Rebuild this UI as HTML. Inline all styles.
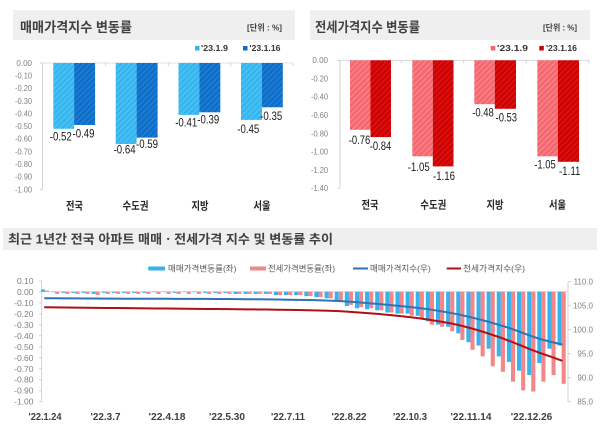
<!DOCTYPE html>
<html><head><meta charset="utf-8"><style>
html,body{margin:0;padding:0;background:#fff;}
svg{display:block;}
text{font-family:"Liberation Sans","Noto Sans CJK KR",sans-serif;}
</style></head><body>
<svg width="600" height="435" viewBox="0 0 600 435" xmlns="http://www.w3.org/2000/svg">
<defs>
<pattern id="lb" patternUnits="userSpaceOnUse" width="4" height="4" patternTransform="rotate(45)"><rect width="4" height="4" fill="#33B6F0"/><rect width="1.2" height="4" fill="#57C4F4"/></pattern>
<pattern id="db" patternUnits="userSpaceOnUse" width="4" height="4" patternTransform="rotate(45)"><rect width="4" height="4" fill="#0C6ECA"/><rect width="1.2" height="4" fill="#2880D3"/></pattern>
<pattern id="lr" patternUnits="userSpaceOnUse" width="4" height="4" patternTransform="rotate(45)"><rect width="4" height="4" fill="#F5666E"/><rect width="1.2" height="4" fill="#F98A90"/></pattern>
<pattern id="dr" patternUnits="userSpaceOnUse" width="4" height="4" patternTransform="rotate(45)"><rect width="4" height="4" fill="#CF0000"/><rect width="1.2" height="4" fill="#D91A1A"/></pattern>
</defs>
<rect width="600" height="435" fill="#fff"/>

<!-- ============ TOP LEFT ============ -->
<rect x="13" y="10" width="282" height="30" fill="#EFEFEF"/>
<text x="20" y="32" font-size="13.5" font-weight="bold" fill="#404040" textLength="112" lengthAdjust="spacingAndGlyphs">매매가격지수 변동률</text>
<text x="247" y="30.5" font-size="8.5" font-weight="bold" fill="#404040" textLength="35" lengthAdjust="spacingAndGlyphs">[단위 : %]</text>
<rect x="195" y="46" width="4.5" height="4.5" fill="#33B6F0"/>
<text x="201" y="50.8" font-size="8.5" font-weight="bold" fill="#333" textLength="27" lengthAdjust="spacingAndGlyphs">'23.1.9</text>
<rect x="243" y="46" width="4.5" height="4.5" fill="#0C6ECA"/>
<text x="249.5" y="50.8" font-size="8.5" font-weight="bold" fill="#333" textLength="31" lengthAdjust="spacingAndGlyphs">'23.1.16</text>

<g font-size="8" fill="#808080" text-anchor="end">
<text x="32" y="65.8">0.00</text>
<text x="32" y="78.5" textLength="17" lengthAdjust="spacingAndGlyphs">-0.10</text>
<text x="32" y="91.1" textLength="17" lengthAdjust="spacingAndGlyphs">-0.20</text>
<text x="32" y="103.8" textLength="17" lengthAdjust="spacingAndGlyphs">-0.30</text>
<text x="32" y="116.4" textLength="17" lengthAdjust="spacingAndGlyphs">-0.40</text>
<text x="32" y="129.1" textLength="17" lengthAdjust="spacingAndGlyphs">-0.50</text>
<text x="32" y="141.7" textLength="17" lengthAdjust="spacingAndGlyphs">-0.60</text>
<text x="32" y="154.4" textLength="17" lengthAdjust="spacingAndGlyphs">-0.70</text>
<text x="32" y="167" textLength="17" lengthAdjust="spacingAndGlyphs">-0.80</text>
<text x="32" y="179.7" textLength="17" lengthAdjust="spacingAndGlyphs">-0.90</text>
<text x="32" y="192.3" textLength="17" lengthAdjust="spacingAndGlyphs">-1.00</text>
</g>
<g stroke="#C8C8C8" stroke-width="0.8">
<line x1="42.5" y1="63" x2="42.5" y2="189.5"/>
<line x1="40" y1="63" x2="42.5" y2="63"/>
<line x1="40" y1="189.5" x2="42.5" y2="189.5"/>
<line x1="42.5" y1="63" x2="293" y2="63" stroke="#D6D6D6"/>
<line x1="105.75" y1="63" x2="105.75" y2="66"/>
<line x1="168.25" y1="63" x2="168.25" y2="66"/>
<line x1="230.75" y1="63" x2="230.75" y2="66"/>
<line x1="293" y1="63" x2="293" y2="66"/>
</g>
<rect x="53.3" y="63" width="20.8" height="65.8" fill="url(#lb)"/>
<rect x="74.1" y="63" width="21" height="62" fill="url(#db)"/>
<rect x="115.7" y="63" width="20.9" height="81" fill="url(#lb)"/>
<rect x="136.6" y="63" width="21" height="74.6" fill="url(#db)"/>
<rect x="178.5" y="63" width="20.8" height="51.9" fill="url(#lb)"/>
<rect x="199.3" y="63" width="21" height="49.3" fill="url(#db)"/>
<rect x="241" y="63" width="21" height="56.9" fill="url(#lb)"/>
<rect x="262" y="63" width="20.8" height="44.3" fill="url(#db)"/>
<g font-size="11.5" fill="#1a1a1a" text-anchor="middle">
<text x="60.8" y="140.7" textLength="22" lengthAdjust="spacingAndGlyphs">-0.52</text>
<text x="83.5" y="137.3" textLength="22" lengthAdjust="spacingAndGlyphs">-0.49</text>
<text x="124.6" y="153.5" textLength="22" lengthAdjust="spacingAndGlyphs">-0.64</text>
<text x="147" y="148" textLength="22" lengthAdjust="spacingAndGlyphs">-0.59</text>
<text x="186.2" y="126.5" textLength="22" lengthAdjust="spacingAndGlyphs">-0.41</text>
<text x="208.3" y="123.5" textLength="22" lengthAdjust="spacingAndGlyphs">-0.39</text>
<text x="248.3" y="133" textLength="22" lengthAdjust="spacingAndGlyphs">-0.45</text>
<text x="271.2" y="120" textLength="22" lengthAdjust="spacingAndGlyphs">-0.35</text>
</g>
<g font-size="11" font-weight="bold" fill="#262626" text-anchor="middle">
<text x="74.5" y="209.5" textLength="17" lengthAdjust="spacingAndGlyphs">전국</text>
<text x="135.5" y="209.5" textLength="26" lengthAdjust="spacingAndGlyphs">수도권</text>
<text x="200" y="209.5" textLength="17" lengthAdjust="spacingAndGlyphs">지방</text>
<text x="262" y="209.5" textLength="17" lengthAdjust="spacingAndGlyphs">서울</text>
</g>

<!-- ============ TOP RIGHT ============ -->
<rect x="310" y="10" width="280" height="30" fill="#EFEFEF"/>
<text x="315" y="32" font-size="13.5" font-weight="bold" fill="#404040" textLength="105" lengthAdjust="spacingAndGlyphs">전세가격지수 변동률</text>
<text x="543" y="30.5" font-size="8.5" font-weight="bold" fill="#404040" textLength="34" lengthAdjust="spacingAndGlyphs">[단위 : %]</text>
<rect x="490.7" y="46" width="4.5" height="4.5" fill="#F5666E"/>
<text x="497" y="50.8" font-size="8.5" font-weight="bold" fill="#333" textLength="31" lengthAdjust="spacingAndGlyphs">'23.1.9</text>
<rect x="539.3" y="46" width="4.5" height="4.5" fill="#CF0000"/>
<text x="546" y="50.8" font-size="8.5" font-weight="bold" fill="#333" textLength="31" lengthAdjust="spacingAndGlyphs">'23.1.16</text>

<g font-size="8" fill="#808080" text-anchor="end">
<text x="328" y="63.1">0.00</text>
<text x="328" y="81.4" textLength="17" lengthAdjust="spacingAndGlyphs">-0.20</text>
<text x="328" y="99.7" textLength="17" lengthAdjust="spacingAndGlyphs">-0.40</text>
<text x="328" y="118" textLength="17" lengthAdjust="spacingAndGlyphs">-0.60</text>
<text x="328" y="136.3" textLength="17" lengthAdjust="spacingAndGlyphs">-0.80</text>
<text x="328" y="154.5" textLength="17" lengthAdjust="spacingAndGlyphs">-1.00</text>
<text x="328" y="172.8" textLength="17" lengthAdjust="spacingAndGlyphs">-1.20</text>
<text x="328" y="191.1" textLength="17" lengthAdjust="spacingAndGlyphs">-1.40</text>
</g>
<g stroke="#C8C8C8" stroke-width="0.8">
<line x1="340" y1="60.3" x2="340" y2="188.3"/>
<line x1="337.5" y1="60.3" x2="340" y2="60.3"/>
<line x1="337.5" y1="188.3" x2="340" y2="188.3"/>
<line x1="340" y1="60.3" x2="589" y2="60.3" stroke="#D6D6D6"/>
<line x1="401.25" y1="60.3" x2="401.25" y2="63.3"/>
<line x1="463.75" y1="60.3" x2="463.75" y2="63.3"/>
<line x1="526.25" y1="60.3" x2="526.25" y2="63.3"/>
<line x1="588.75" y1="60.3" x2="588.75" y2="63.3"/>
</g>
<rect x="350" y="60.3" width="20.5" height="69.5" fill="url(#lr)"/>
<rect x="370.5" y="60.3" width="20.5" height="76.8" fill="url(#dr)"/>
<rect x="412.3" y="60.3" width="20.5" height="96" fill="url(#lr)"/>
<rect x="432.8" y="60.3" width="20.7" height="106.1" fill="url(#dr)"/>
<rect x="474.3" y="60.3" width="20.5" height="43.9" fill="url(#lr)"/>
<rect x="494.8" y="60.3" width="21.2" height="48.5" fill="url(#dr)"/>
<rect x="537.3" y="60.3" width="20.5" height="96" fill="url(#lr)"/>
<rect x="557.8" y="60.3" width="21.2" height="101.5" fill="url(#dr)"/>
<g font-size="11.5" fill="#1a1a1a" text-anchor="middle">
<text x="359.5" y="144" textLength="21.5" lengthAdjust="spacingAndGlyphs">-0.76</text>
<text x="380.5" y="150" textLength="21.5" lengthAdjust="spacingAndGlyphs">-0.84</text>
<text x="418.7" y="171" textLength="22" lengthAdjust="spacingAndGlyphs">-1.05</text>
<text x="444" y="180" textLength="22" lengthAdjust="spacingAndGlyphs">-1.16</text>
<text x="483" y="116.5" textLength="21.5" lengthAdjust="spacingAndGlyphs">-0.48</text>
<text x="506.3" y="121.5" textLength="21.5" lengthAdjust="spacingAndGlyphs">-0.53</text>
<text x="545" y="168.5" textLength="21.5" lengthAdjust="spacingAndGlyphs">-1.05</text>
<text x="569.7" y="175" textLength="21.5" lengthAdjust="spacingAndGlyphs">-1.11</text>
</g>
<g font-size="11" font-weight="bold" fill="#262626" text-anchor="middle">
<text x="370" y="208.5" textLength="17" lengthAdjust="spacingAndGlyphs">전국</text>
<text x="433.3" y="208.5" textLength="26" lengthAdjust="spacingAndGlyphs">수도권</text>
<text x="495" y="208.5" textLength="17" lengthAdjust="spacingAndGlyphs">지방</text>
<text x="557.5" y="208.5" textLength="17" lengthAdjust="spacingAndGlyphs">서울</text>
</g>

<!-- ============ BOTTOM ============ -->
<rect x="3" y="228" width="594" height="22" fill="#EFEFEF"/>
<text x="8" y="243.5" font-size="12.5" font-weight="bold" fill="#404040" textLength="325" lengthAdjust="spacingAndGlyphs">최근 1년간 전국 아파트 매매ㆍ전세가격 지수 및 변동률 추이</text>

<rect x="148.3" y="266.5" width="16.7" height="4" fill="#38B2EC"/>
<text x="168" y="271.5" font-size="8.5" fill="#595959" textLength="68.5" lengthAdjust="spacingAndGlyphs">매매가격변동률(좌)</text>
<rect x="250" y="266.5" width="16" height="4" fill="#F2878A"/>
<text x="268" y="271.5" font-size="8.5" fill="#595959" textLength="67" lengthAdjust="spacingAndGlyphs">전세가격변동률(좌)</text>
<line x1="353" y1="268.5" x2="368" y2="268.5" stroke="#2F74B5" stroke-width="2"/>
<text x="370" y="271.5" font-size="8.5" fill="#595959" textLength="60.7" lengthAdjust="spacingAndGlyphs">매매가격지수(우)</text>
<line x1="446.7" y1="268.5" x2="461" y2="268.5" stroke="#B00F14" stroke-width="2"/>
<text x="463" y="271.5" font-size="8.5" fill="#595959" textLength="62" lengthAdjust="spacingAndGlyphs">전세가격지수(우)</text>

<g font-size="8.5" fill="#808080" text-anchor="end">
<text x="33.5" y="284">0.10</text>
<text x="33.5" y="295">0.00</text>
<text x="33.5" y="305.9">-0.10</text>
<text x="33.5" y="316.9">-0.20</text>
<text x="33.5" y="327.9">-0.30</text>
<text x="33.5" y="338.8">-0.40</text>
<text x="33.5" y="349.8">-0.50</text>
<text x="33.5" y="360.8">-0.60</text>
<text x="33.5" y="371.8">-0.70</text>
<text x="33.5" y="382.7">-0.80</text>
<text x="33.5" y="393.7">-0.90</text>
<text x="33.5" y="404.7">-1.00</text>
</g>
<g font-size="8" fill="#808080" text-anchor="end">
<text x="593" y="284.5">110.0</text>
<text x="593" y="308.5">105.0</text>
<text x="593" y="332.5">100.0</text>
<text x="593" y="356.5">95.0</text>
<text x="593" y="380.5">90.0</text>
<text x="593" y="404.5">85.0</text>
</g>
<g stroke="#C8C8C8" stroke-width="0.8">
<line x1="41.7" y1="281" x2="41.7" y2="401.7"/>
<line x1="39" y1="281" x2="41.7" y2="281"/>
<line x1="39" y1="292" x2="41.7" y2="292"/>
<line x1="39" y1="302.9" x2="41.7" y2="302.9"/>
<line x1="39" y1="313.9" x2="41.7" y2="313.9"/>
<line x1="39" y1="324.9" x2="41.7" y2="324.9"/>
<line x1="39" y1="335.8" x2="41.7" y2="335.8"/>
<line x1="39" y1="346.8" x2="41.7" y2="346.8"/>
<line x1="39" y1="357.8" x2="41.7" y2="357.8"/>
<line x1="39" y1="368.8" x2="41.7" y2="368.8"/>
<line x1="39" y1="379.7" x2="41.7" y2="379.7"/>
<line x1="39" y1="390.7" x2="41.7" y2="390.7"/>
<line x1="39" y1="401.7" x2="41.7" y2="401.7"/>
<line x1="568" y1="281.7" x2="568" y2="401.7"/>
<line x1="568" y1="281.7" x2="571" y2="281.7"/>
<line x1="568" y1="305.7" x2="571" y2="305.7"/>
<line x1="568" y1="329.7" x2="571" y2="329.7"/>
<line x1="568" y1="353.7" x2="571" y2="353.7"/>
<line x1="568" y1="377.7" x2="571" y2="377.7"/>
<line x1="568" y1="401.7" x2="571" y2="401.7"/>
<line x1="41.7" y1="291.7" x2="568" y2="291.7" stroke="#D9D9D9"/>
</g>

<!-- blue bars -->
<g fill="#38B2EC">
<rect x="40.9" y="289.5" width="4.1" height="2.2"/>
<rect x="51.03" y="291.7" width="4.1" height="0.5"/>
<rect x="61.16" y="291.7" width="4.1" height="1.1"/>
<rect x="71.29" y="291.7" width="4.1" height="1.1"/>
<rect x="81.42" y="291.7" width="4.1" height="1.1"/>
<rect x="91.55" y="291.7" width="4.1" height="2.2"/>
<rect x="101.68" y="291.7" width="4.1" height="1.1"/>
<rect x="111.81" y="291.7" width="4.1" height="1.1"/>
<rect x="121.94" y="291.7" width="4.1" height="1.1"/>
<rect x="132.07" y="291.7" width="4.1" height="1.1"/>
<rect x="142.2" y="291.7" width="4.1" height="1.1"/>
<rect x="152.33" y="291.7" width="4.1" height="0.5"/>
<rect x="162.46" y="291.7" width="4.1" height="0.5"/>
<rect x="172.59" y="291.7" width="4.1" height="1.1"/>
<rect x="182.72" y="291.7" width="4.1" height="0.5"/>
<rect x="192.85" y="291.7" width="4.1" height="0.5"/>
<rect x="202.98" y="291.7" width="4.1" height="1.1"/>
<rect x="213.11" y="291.7" width="4.1" height="1.1"/>
<rect x="223.24" y="291.7" width="4.1" height="1.1"/>
<rect x="233.37" y="291.7" width="4.1" height="2.2"/>
<rect x="243.5" y="291.7" width="4.1" height="2.2"/>
<rect x="253.63" y="291.7" width="4.1" height="2.2"/>
<rect x="263.76" y="291.7" width="4.1" height="2.2"/>
<rect x="273.89" y="291.7" width="4.1" height="3.3"/>
<rect x="284.02" y="291.7" width="4.1" height="3.3"/>
<rect x="294.15" y="291.7" width="4.1" height="3.3"/>
<rect x="304.28" y="291.7" width="4.1" height="4.4"/>
<rect x="314.41" y="291.7" width="4.1" height="5.5"/>
<rect x="324.54" y="291.7" width="4.1" height="6.6"/>
<rect x="334.67" y="291.7" width="4.1" height="8.8"/>
<rect x="344.8" y="291.7" width="4.1" height="14.3"/>
<rect x="354.93" y="291.7" width="4.1" height="16.5"/>
<rect x="365.06" y="291.7" width="4.1" height="17.6"/>
<rect x="375.19" y="291.7" width="4.1" height="18.6"/>
<rect x="385.32" y="291.7" width="4.1" height="20.8"/>
<rect x="395.45" y="291.7" width="4.1" height="21.9"/>
<rect x="405.58" y="291.7" width="4.1" height="21.9"/>
<rect x="415.71" y="291.7" width="4.1" height="24.1"/>
<rect x="425.84" y="291.7" width="4.1" height="29.6"/>
<rect x="435.97" y="291.7" width="4.1" height="32.9"/>
<rect x="446.1" y="291.7" width="4.1" height="35.1"/>
<rect x="456.23" y="291.7" width="4.1" height="41.7"/>
<rect x="466.36" y="291.7" width="4.1" height="50.5"/>
<rect x="476.49" y="291.7" width="4.1" height="53.8"/>
<rect x="486.62" y="291.7" width="4.1" height="57"/>
<rect x="496.75" y="291.7" width="4.1" height="64.7"/>
<rect x="506.88" y="291.7" width="4.1" height="70.2"/>
<rect x="517.01" y="291.7" width="4.1" height="79"/>
<rect x="527.14" y="291.7" width="4.1" height="83.4"/>
<rect x="537.27" y="291.7" width="4.1" height="71.3"/>
<rect x="547.4" y="291.7" width="4.1" height="57"/>
<rect x="557.53" y="291.7" width="4.1" height="53.8"/>
</g>
<!-- red bars -->
<g fill="#F2878A">
<rect x="45" y="290.6" width="4.1" height="1.1"/>
<rect x="55.13" y="291.7" width="4.1" height="2.2"/>
<rect x="65.26" y="291.7" width="4.1" height="2.2"/>
<rect x="75.39" y="291.7" width="4.1" height="2.2"/>
<rect x="85.52" y="291.7" width="4.1" height="2.2"/>
<rect x="95.65" y="291.7" width="4.1" height="3.3"/>
<rect x="105.78" y="291.7" width="4.1" height="2.2"/>
<rect x="115.91" y="291.7" width="4.1" height="2.2"/>
<rect x="126.04" y="291.7" width="4.1" height="2.2"/>
<rect x="136.17" y="291.7" width="4.1" height="2.2"/>
<rect x="146.3" y="291.7" width="4.1" height="2.2"/>
<rect x="156.43" y="291.7" width="4.1" height="2.2"/>
<rect x="166.56" y="291.7" width="4.1" height="2.2"/>
<rect x="176.69" y="291.7" width="4.1" height="2.2"/>
<rect x="186.82" y="291.7" width="4.1" height="2.2"/>
<rect x="196.95" y="291.7" width="4.1" height="2.2"/>
<rect x="207.08" y="291.7" width="4.1" height="2.2"/>
<rect x="217.21" y="291.7" width="4.1" height="2.2"/>
<rect x="227.34" y="291.7" width="4.1" height="2.2"/>
<rect x="237.47" y="291.7" width="4.1" height="2.2"/>
<rect x="247.6" y="291.7" width="4.1" height="2.2"/>
<rect x="257.73" y="291.7" width="4.1" height="2.2"/>
<rect x="267.86" y="291.7" width="4.1" height="2.2"/>
<rect x="277.99" y="291.7" width="4.1" height="3.3"/>
<rect x="288.12" y="291.7" width="4.1" height="3.3"/>
<rect x="298.25" y="291.7" width="4.1" height="3.3"/>
<rect x="308.38" y="291.7" width="4.1" height="4.4"/>
<rect x="318.51" y="291.7" width="4.1" height="5.5"/>
<rect x="328.64" y="291.7" width="4.1" height="6.6"/>
<rect x="338.77" y="291.7" width="4.1" height="8.8"/>
<rect x="348.9" y="291.7" width="4.1" height="13.2"/>
<rect x="359.03" y="291.7" width="4.1" height="15.4"/>
<rect x="369.16" y="291.7" width="4.1" height="16.5"/>
<rect x="379.29" y="291.7" width="4.1" height="18.6"/>
<rect x="389.42" y="291.7" width="4.1" height="20.8"/>
<rect x="399.55" y="291.7" width="4.1" height="21.9"/>
<rect x="409.68" y="291.7" width="4.1" height="24.1"/>
<rect x="419.81" y="291.7" width="4.1" height="27.4"/>
<rect x="429.94" y="291.7" width="4.1" height="32.9"/>
<rect x="440.07" y="291.7" width="4.1" height="35.1"/>
<rect x="450.2" y="291.7" width="4.1" height="39.5"/>
<rect x="460.33" y="291.7" width="4.1" height="48.3"/>
<rect x="470.46" y="291.7" width="4.1" height="58.1"/>
<rect x="480.59" y="291.7" width="4.1" height="64.7"/>
<rect x="490.72" y="291.7" width="4.1" height="74.6"/>
<rect x="500.85" y="291.7" width="4.1" height="80.1"/>
<rect x="510.98" y="291.7" width="4.1" height="90"/>
<rect x="521.11" y="291.7" width="4.1" height="98.7"/>
<rect x="531.24" y="291.7" width="4.1" height="99.8"/>
<rect x="541.37" y="291.7" width="4.1" height="90"/>
<rect x="551.5" y="291.7" width="4.1" height="83.4"/>
<rect x="561.63" y="291.7" width="4.1" height="92.1"/>
</g>

<!-- index lines -->
<polyline fill="none" stroke="#2F74B5" stroke-width="2" stroke-linejoin="round" stroke-linecap="round" points="45,298.3 55.13,298.3 65.26,298.35 75.39,298.4 85.52,298.45 95.65,298.55 105.78,298.6 115.91,298.65 126.04,298.7 136.17,298.75 146.3,298.8 156.43,298.8 166.56,298.8 176.69,298.85 186.82,298.85 196.95,298.85 207.08,298.9 217.21,298.95 227.34,299 237.47,299.1 247.6,299.2 257.73,299.3 267.86,299.4 277.99,299.55 288.12,299.7 298.25,299.85 308.38,300.05 318.51,300.3 328.64,300.6 338.77,301 348.9,301.65 359.03,302.4 369.16,303.2 379.29,304.05 389.42,305 399.55,306 409.68,307 419.81,308.1 429.94,309.45 440.07,311.1 450.2,312.8 460.33,314.8 470.46,317.2 480.59,319.7 490.72,322.4 500.85,325.4 510.98,328.6 521.11,332.3 531.24,336.1 541.37,339.4 551.5,342 561.63,344.4"/>
<polyline fill="none" stroke="#B00F14" stroke-width="2" stroke-linejoin="round" stroke-linecap="round" points="45,307.3 55.13,307.4 65.26,307.5 75.39,307.6 85.52,307.7 95.65,307.85 105.78,307.95 115.91,308.05 126.04,308.15 136.17,308.25 146.3,308.35 156.43,308.45 166.56,308.55 176.69,308.65 186.82,308.75 196.95,308.85 207.08,308.95 217.21,309.05 227.34,309.15 237.47,309.25 247.6,309.35 257.73,309.45 267.86,309.55 277.99,309.7 288.12,309.85 298.25,310 308.38,310.2 318.51,310.45 328.64,310.75 338.77,311.15 348.9,311.75 359.03,312.45 369.16,313.2 379.29,314.05 389.42,315 399.55,316 409.68,317.1 419.81,318.35 429.94,319.85 440.07,321.45 450.2,323.25 460.33,325.45 470.46,328.1 480.59,331 490.72,334.3 500.85,337.7 510.98,341.5 521.11,345.6 531.24,349.7 541.37,353.4 551.5,356.9 561.63,360.6"/>

<!-- x labels -->
<g font-size="10.5" font-weight="bold" fill="#404040" text-anchor="middle">
<text x="45" y="420" textLength="33" lengthAdjust="spacingAndGlyphs">'22.1.24</text>
<text x="105.5" y="420" textLength="30" lengthAdjust="spacingAndGlyphs">'22.3.7</text>
<text x="167" y="420" textLength="37" lengthAdjust="spacingAndGlyphs">'22.4.18</text>
<text x="227" y="420" textLength="36" lengthAdjust="spacingAndGlyphs">'22.5.30</text>
<text x="288" y="420" textLength="34" lengthAdjust="spacingAndGlyphs">'22.7.11</text>
<text x="349" y="420" textLength="35" lengthAdjust="spacingAndGlyphs">'22.8.22</text>
<text x="410" y="420" textLength="34" lengthAdjust="spacingAndGlyphs">'22.10.3</text>
<text x="471" y="420" textLength="41" lengthAdjust="spacingAndGlyphs">'22.11.14</text>
<text x="531.5" y="420" textLength="41.5" lengthAdjust="spacingAndGlyphs">'22.12.26</text>
</g>
</svg>
</body></html>
